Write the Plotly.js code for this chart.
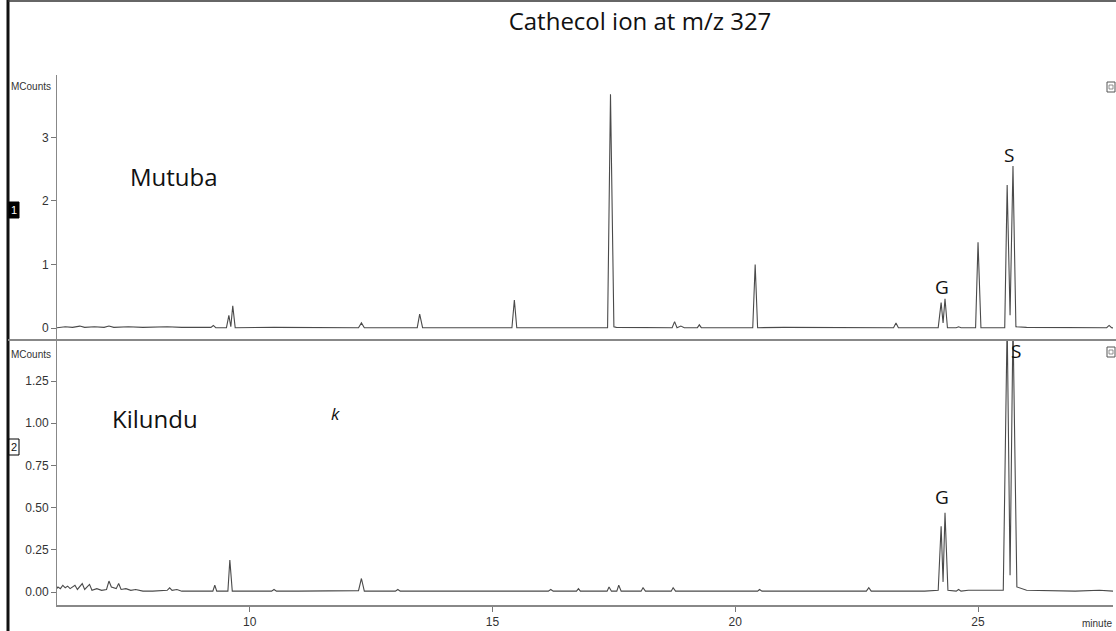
<!DOCTYPE html>
<html>
<head>
<meta charset="utf-8">
<script src="https://cdn.plot.ly/plotly-3.0.1.min.js"></script>
<style>
html,body{margin:0;padding:0;background:#fff;}
#chart{width:1116px;height:631px;}
</style>
</head>
<body>
<div id="chart"></div>
<script>
// ---- Data (retention time in minutes, intensity in MCounts) ----
const mutubaTime = [6.0,6.2,6.35,6.5,6.6,6.8,7.0,7.1,7.2,7.5,7.8,8.3,8.6,9.2,9.25,9.3,9.52,9.57,9.61,9.65,9.7,10.5,
  12.24,12.3,12.36,13.45,13.5,13.56,15.4,15.45,15.5,16.15,16.2,16.25,16.75,16.8,16.85,17.37,17.43,17.5,17.55,18.05,18.1,18.15,
  18.7,18.75,18.8,18.88,18.95,19.22,19.26,19.3,20.36,20.41,20.46,21.0,22.5,23.26,23.31,23.36,24.18,24.24,24.28,24.32,24.37,
  24.55,24.6,24.65,24.95,25.0,25.06,25.55,25.6,25.66,25.72,25.78,26.0,27.0,27.65,27.7,27.75,27.8];
const mutubaCounts = [0.0,0.02,0.01,0.03,0.01,0.02,0.01,0.03,0.01,0.02,0.01,0.02,0.01,0.01,0.04,0.005,0.005,0.2,0.02,0.35,0.005,0.01,
  0.005,0.08,0.005,0.005,0.22,0.005,0.005,0.44,0.005,0.005,0.015,0.005,0.005,0.015,0.005,0.005,3.68,0.02,0.01,0.005,0.015,0.005,
  0.005,0.1,0.005,0.03,0.005,0.005,0.05,0.005,0.005,1.0,0.005,0.01,0.01,0.005,0.08,0.005,0.005,0.4,0.08,0.46,0.005,
  0.005,0.02,0.005,0.005,1.35,0.005,0.005,2.25,0.2,2.55,0.02,0.01,0.01,0.005,0.04,0.005,0.0];

const kilunduTime = [6.0,6.05,6.1,6.15,6.2,6.25,6.3,6.4,6.45,6.55,6.6,6.7,6.75,6.85,6.95,7.05,7.1,7.15,7.25,7.3,7.35,7.45,7.55,7.65,
  7.8,8.0,8.3,8.35,8.4,8.5,8.6,9.0,9.24,9.28,9.32,9.55,9.59,9.64,10.0,10.45,10.5,10.55,11.0,12.0,12.24,12.3,12.36,13.0,13.05,13.1,
  14.5,15.5,16.15,16.2,16.25,16.73,16.77,16.81,17.36,17.4,17.45,17.56,17.6,17.65,18.06,18.1,18.15,18.68,18.72,18.77,
  20.0,20.46,20.5,20.55,22.0,22.7,22.75,22.8,23.9,24.18,24.24,24.28,24.32,24.38,24.55,24.6,24.65,24.8,25.0,25.52,25.6,25.66,
  25.72,25.8,26.0,27.0,27.5,27.8];
const kilunduCounts = [0.01,0.03,0.02,0.04,0.025,0.035,0.02,0.04,0.015,0.05,0.015,0.045,0.01,0.02,0.01,0.015,0.065,0.03,0.02,0.05,0.015,0.02,0.01,0.015,
  0.005,0.005,0.01,0.025,0.01,0.015,0.005,0.005,0.005,0.04,0.005,0.005,0.19,0.005,0.005,0.005,0.015,0.005,0.005,0.005,0.008,0.08,0.005,0.005,0.015,0.005,
  0.005,0.005,0.005,0.015,0.005,0.005,0.02,0.005,0.005,0.03,0.005,0.005,0.04,0.005,0.005,0.025,0.005,0.005,0.025,0.005,
  0.005,0.005,0.015,0.005,0.005,0.005,0.025,0.005,0.005,0.01,0.39,0.06,0.47,0.01,0.005,0.015,0.005,0.01,0.01,0.01,1.6,0.1,
  1.6,0.03,0.01,0.005,0.01,0.005];

const xTickVals = [10,15,20,25];
const xTickText = ['10','15','20','25'];
const topTickVals = [0,1,2,3];
const topTickText = ['0','1','2','3'];
const botTickVals = [0,0.25,0.5,0.75,1.0,1.25];
const botTickText = ['0.00','0.25','0.50','0.75','1.00','1.25'];

const chartTitle = 'Cathecol ion at m/z 327';
const sampleTop = 'Mutuba';
const sampleBottom = 'Kilundu';

// ---- pixel helpers for decoration placement ----
const L = 57, R = 3, T = 75, B = 26, W = 1116, H = 631;
const pw = W - L - R, ph = H - T - B;
const px = v => (v - L) / pw;
const py = v => (H - B - v) / ph;

const lineStyle = {color:'#4a4a4a', width:1.1};
const axisFont = {family:'"Liberation Sans Narrow", "Liberation Sans", Arial, sans-serif', size:12, color:'#333'};
const textFont = {family:'"Open Sans", "Noto Sans", sans-serif', size:24, color:'#111'};
const letterFont = {family:'"Open Sans", "Noto Sans", sans-serif', size:19, color:'#111'};
const smallFont = {family:'"Liberation Sans Narrow", "Liberation Sans", sans-serif', size:10, color:'#333'};

const traces = [
  {x: mutubaTime, y: mutubaCounts, xaxis:'x', yaxis:'y2', type:'scatter', mode:'lines', line:lineStyle, hoverinfo:'skip'},
  {x: kilunduTime, y: kilunduCounts, xaxis:'x', yaxis:'y', type:'scatter', mode:'lines', line:lineStyle, hoverinfo:'skip'}
];

const layout = {
  width: W, height: H,
  margin: {l:L, r:R, t:T, b:B},
  paper_bgcolor:'#fff', plot_bgcolor:'#fff',
  showlegend:false,
  title: {text: chartTitle, font:{family:'"Open Sans", "Noto Sans", sans-serif', size:24, color:'#111'},
          xref:'paper', x: px(640), xanchor:'center', yref:'container', y: 1 - 22/H, yanchor:'middle'},
  xaxis: {range:[6.03, 27.78], tickvals:xTickVals, ticktext:xTickText, ticks:'outside', ticklen:5, tickcolor:'#777',
          showline:true, linecolor:'#888', linewidth:2, showgrid:false, zeroline:false, tickfont:axisFont, anchor:'y'},
  yaxis: {domain:[0,0.5], range:[-0.077, 1.493], tickvals:botTickVals, ticktext:botTickText, ticks:'outside', ticklen:5,
          tickcolor:'#777', showline:true, linecolor:'#888', linewidth:1, showgrid:false, zeroline:false, tickfont:axisFont, anchor:'x'},
  yaxis2: {domain:[0.5,1], range:[-0.189, 3.984], tickvals:topTickVals, ticktext:topTickText, ticks:'outside', ticklen:5,
          tickcolor:'#777', showline:true, linecolor:'#888', linewidth:1, showgrid:false, zeroline:false, tickfont:axisFont, anchor:'x'},
  annotations: [
    {text: sampleTop, xref:'x', yref:'y2', x:8.44, y:2.38, showarrow:false, font:textFont},
    {text: sampleBottom, xref:'x', yref:'y', x:8.05, y:1.025, showarrow:false, font:textFont},
    {text: '<i>k</i>', xref:'x', yref:'y', x:11.77, y:1.055, showarrow:false, font:{family:'"Open Sans", sans-serif', size:17, color:'#111'}},
    {text: 'G', xref:'x', yref:'y2', x:24.26, y:0.65, showarrow:false, font:letterFont},
    {text: 'S', xref:'x', yref:'y2', x:25.64, y:2.72, showarrow:false, font:letterFont},
    {text: 'G', xref:'x', yref:'y', x:24.26, y:0.563, showarrow:false, font:letterFont},
    {text: 'S', xref:'x', yref:'y', x:25.78, y:1.43, showarrow:false, font:letterFont},
    {text: 'MCounts', xref:'paper', yref:'paper', x:px(53), y:py(86), xanchor:'right', yanchor:'middle', showarrow:false, font:smallFont},
    {text: 'MCounts', xref:'paper', yref:'paper', x:px(53), y:py(354), xanchor:'right', yanchor:'middle', showarrow:false, font:smallFont},
    {text: '1', xref:'paper', yref:'paper', x:px(14), y:py(210), xanchor:'center', yanchor:'middle', showarrow:false,
     font:{family:'"Liberation Sans Narrow", "Liberation Sans", sans-serif', size:11, color:'#fff'}},
    {text: '2', xref:'paper', yref:'paper', x:px(14), y:py(447), xanchor:'center', yanchor:'middle', showarrow:false,
     font:{family:'"Liberation Sans Narrow", "Liberation Sans", sans-serif', size:11, color:'#111'}},
    {text: 'minute', xref:'paper', yref:'paper', x:px(1114), y:py(623), xanchor:'right', yanchor:'middle', showarrow:false, font:smallFont}
  ],
  shapes: [
    {type:'line', xref:'paper', yref:'paper', x0:px(8), x1:px(8), y0:py(0), y1:py(H), line:{color:'#111', width:3}},
    {type:'line', xref:'paper', yref:'paper', x0:px(8), x1:px(W), y0:py(1), y1:py(1), line:{color:'#333', width:1.5}},
    {type:'line', xref:'paper', yref:'paper', x0:px(8), x1:px(W), y0:py(340), y1:py(340), line:{color:'#888', width:2}},
    {type:'rect', xref:'paper', yref:'paper', x0:px(9), x1:px(19), y0:py(202), y1:py(218), fillcolor:'#000', line:{color:'#000', width:1}},
    {type:'rect', xref:'paper', yref:'paper', x0:px(9), x1:px(19), y0:py(439), y1:py(455), fillcolor:'#fff', line:{color:'#000', width:1}},
    {type:'rect', xref:'paper', yref:'paper', x0:px(1107), x1:px(1115), y0:py(82), y1:py(92), fillcolor:'#fff', line:{color:'#555', width:1}},
    {type:'rect', xref:'paper', yref:'paper', x0:px(1109), x1:px(1113), y0:py(85), y1:py(89), fillcolor:'#fff', line:{color:'#777', width:0.8}},
    {type:'rect', xref:'paper', yref:'paper', x0:px(1107), x1:px(1115), y0:py(347), y1:py(357), fillcolor:'#fff', line:{color:'#555', width:1}},
    {type:'rect', xref:'paper', yref:'paper', x0:px(1109), x1:px(1113), y0:py(350), y1:py(354), fillcolor:'#fff', line:{color:'#777', width:0.8}}
  ]
};

Plotly.newPlot('chart', traces, layout, {displayModeBar:false, staticPlot:true});
</script>
</body>
</html>
